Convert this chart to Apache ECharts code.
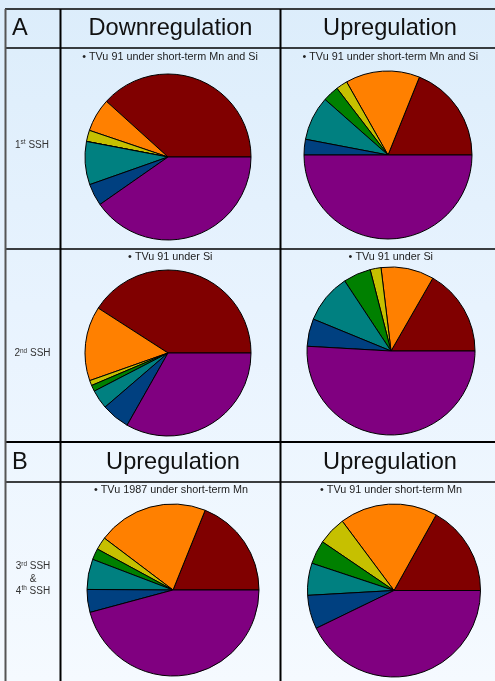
<!DOCTYPE html>
<html>
<head>
<meta charset="utf-8">
<script src="https://cdn.jsdelivr.net/npm/echarts@6/dist/echarts.min.js"></script>
<style>
  html, body { margin: 0; padding: 0; }
  body { width: 495px; height: 681px; background: linear-gradient(to bottom, #dcedfb 0%, #e8f3fe 45%, #f5faff 100%); }
  #chart { width: 495px; height: 681px; }
</style>
</head>
<body>
<div id="chart"></div>
<script>
// Slice categories in drawing order (counter-clockwise from 3 o'clock)
const sliceNames = ['Group 1', 'Group 2', 'Group 3', 'Group 4', 'Group 5', 'Group 6', 'Group 7'];
const sliceColors = ['#800000', '#ff8000', '#c6c000', '#008000', '#008080', '#004080', '#800080'];

// Percent shares
const aDown1st = [38.3, 6.5, 2.2, 0, 8.4, 4.3, 40.3];
const aUp1st   = [18.9, 14.3, 2.2, 3.1, 8.5, 3.0, 50.0];
const aDown2nd = [40.9, 14.5, 1.0, 1.2, 3.7, 5.5, 33.2];
const aUp2nd   = [16.7, 10.2, 2.1, 5.3, 9.5, 5.3, 50.9];
const bUpLeft  = [18.9, 20.8, 2.4, 2.1, 5.7, 4.3, 45.8];
const bUpRight = [16.9, 18.3, 5.3, 4.4, 6.0, 6.3, 42.8];

// Texts
const sectionLabels = ['A', 'B'];
const columnHeadersA = ['Downregulation', 'Upregulation'];
const columnHeadersB = ['Upregulation', 'Upregulation'];
const subtitles = [
  '• TVu 91 under short-term Mn and Si',
  '• TVu 91 under short-term Mn and Si',
  '• TVu 91 under Si',
  '• TVu 91 under Si',
  '• TVu 1987 under short-term Mn',
  '• TVu 91 under short-term Mn'
];
const rowLabels = ['{n|1}{s|st}{n| SSH}', '{n|2}{s|nd}{n| SSH}', '{n|3}{s|rd}{n| SSH}\n{n|&}\n{n|4}{s|th}{n| SSH}'];

const pieData = [aDown1st, aUp1st, aDown2nd, aUp2nd, bUpLeft, bUpRight];
const pieCenters = [[168, 157], [388, 155], [168, 353], [391, 351], [173, 590], [394, 590.5]];
const pieRadii = [83, 84, 83, 84, 86, 86.5];

const FONT = '"Liberation Sans", Arial, sans-serif';
const chart = echarts.init(document.getElementById('chart'), null, { renderer: 'canvas' });

const series = pieData.map((vals, i) => ({
  type: 'pie',
  center: pieCenters[i],
  radius: pieRadii[i],
  startAngle: 0,
  clockwise: false,
  label: { show: false },
  labelLine: { show: false },
  emphasis: { disabled: true },
  animation: false,
  silent: true,
  itemStyle: { borderColor: '#000', borderWidth: 1 },
  data: vals.map((v, j) => ({ name: sliceNames[j], value: v, itemStyle: { color: sliceColors[j] } }))
}));

function line(x1, y1, x2, y2, w, c) {
  return { type: 'line', shape: { x1, y1, x2, y2 }, style: { stroke: c || '#000', lineWidth: w || 1.5 }, silent: true, z: 10 };
}
function txt(x, y, text, size, align, extra, color) {
  return {
    type: 'text', x, y, silent: true, z: 10,
    style: Object.assign({ text, fontSize: size, fontFamily: FONT, fill: color || '#111', align: align || 'center', verticalAlign: 'middle' }, extra || {})
  };
}

const graphics = [
  // grid lines
  line(5, 9, 495, 9, 1.5),
  line(5, 48, 495, 48, 1.5),
  line(5, 249, 495, 249, 1.5),
  line(5, 442, 495, 442, 2),
  line(5, 482, 495, 482, 1.5),
  line(5.5, 9, 5.5, 681, 2, '#555'),
  line(60.5, 9, 60.5, 681, 2),
  line(280.5, 9, 280.5, 681, 2),
  // section headers
  txt(12, 28.5, sectionLabels[0], 23.6, 'left'),
  txt(170.5, 28.5, columnHeadersA[0], 23.6),
  txt(390, 28.5, columnHeadersA[1], 23.6),
  txt(12, 462.5, sectionLabels[1], 23.6, 'left'),
  txt(173, 462.5, columnHeadersB[0], 23.6),
  txt(390, 462.5, columnHeadersB[1], 23.6),
  // subtitles
  txt(170, 57.5, subtitles[0], 10.8, 'center', null, '#222'),
  txt(390.3, 57.5, subtitles[1], 10.8, 'center', null, '#222'),
  txt(170.3, 257, subtitles[2], 10.8, 'center', null, '#222'),
  txt(390.8, 257, subtitles[3], 10.8, 'center', null, '#222'),
  txt(171, 490, subtitles[4], 10.8, 'center', null, '#222'),
  txt(391, 490, subtitles[5], 10.8, 'center', null, '#222')
];

const rich = { n: { fontSize: 10, fontFamily: FONT, fill: '#333', lineHeight: 12.3 }, s: { fontSize: 6.5, fontFamily: FONT, fill: '#333', verticalAlign: 'top', lineHeight: 12.3 } };
graphics.push(txt(32, 145, rowLabels[0], 10, 'center', { rich }, '#333'));
graphics.push(txt(32.5, 353.5, rowLabels[1], 10, 'center', { rich }, '#333'));
graphics.push(txt(33, 579, rowLabels[2], 10, 'center', { rich }, '#333'));

chart.setOption({
  backgroundColor: 'transparent',
  animation: false,
  series,
  graphic: graphics
});
</script>
</body>
</html>
